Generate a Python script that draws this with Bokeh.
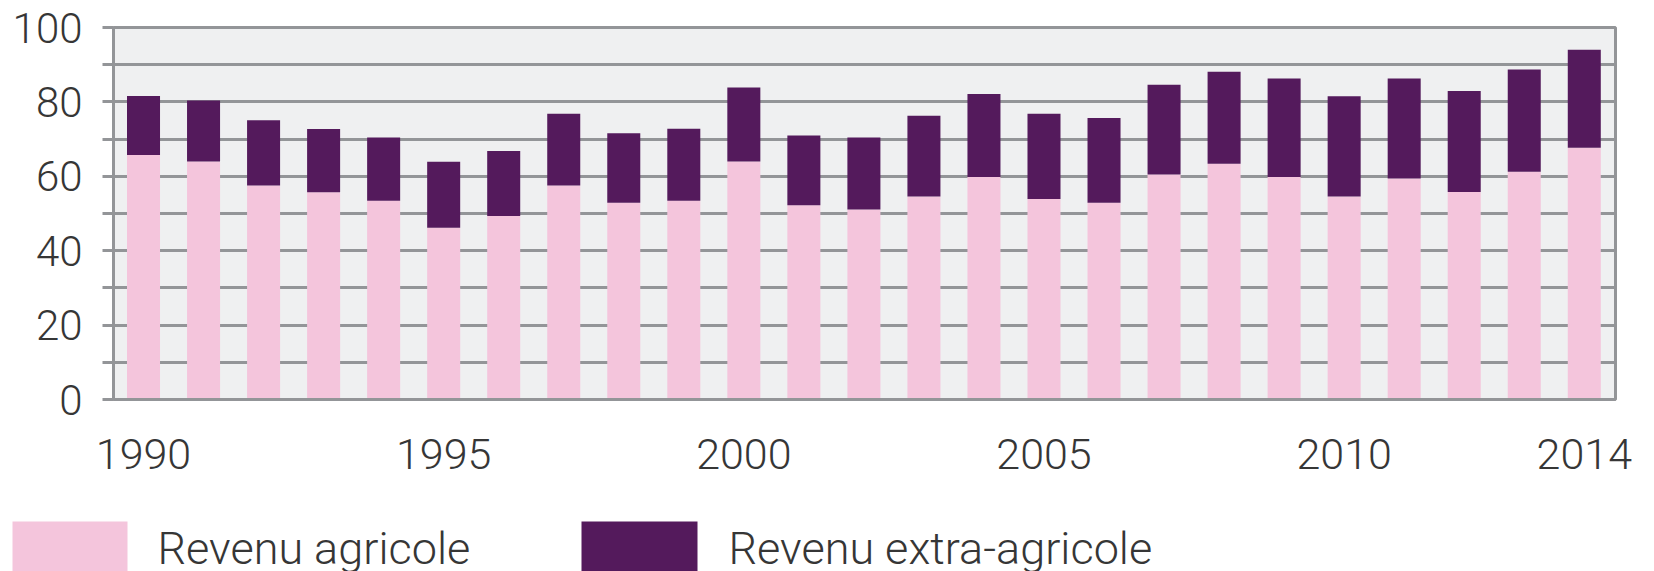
from bokeh.plotting import figure
from bokeh.layouts import column, row
from bokeh.models import ColumnDataSource, FixedTicker, Range1d
from bokeh.core.properties import value
from bokeh.embed import file_html
from bokeh.resources import INLINE

years = list(range(1990, 2015))
revenu_agricole = [65.7, 64.0, 57.5, 55.7, 53.4, 46.2, 49.3, 57.5, 52.9, 53.4,
                   64.0, 52.2, 51.1, 54.6, 59.8, 53.9, 52.9, 60.5, 63.4, 59.8,
                   54.6, 59.4, 55.8, 61.2, 67.7]
revenu_extra = [15.9, 16.4, 17.6, 17.0, 17.0, 17.7, 17.5, 19.3, 18.7, 19.4,
                19.9, 18.8, 19.3, 21.7, 22.3, 22.9, 22.8, 24.1, 24.7, 26.5,
                26.9, 26.9, 27.1, 27.5, 26.3]
series_labels = ["Revenu agricole", "Revenu extra-agricole"]
x_tick_years = [1990, 1995, 2000, 2005, 2010, 2014]
y_major = [0, 20, 40, 60, 80, 100]
y_minor = [10, 30, 50, 70, 90]
y_grid = [0, 10, 20, 30, 40, 50, 60, 70, 80, 90, 100]

PINK = "#f4c5dc"
PURPLE = "#541a5c"
GRID = "#939598"
TEXT = "#363636"
FONT = "Roboto Light, Roboto"

source = ColumnDataSource(dict(year=years, agri=revenu_agricole, extra=revenu_extra))

p = figure(frame_width=1502, frame_height=372,
           min_border_left=113, min_border_right=39, min_border_top=27,
           min_border_bottom=101,
           x_range=Range1d(1989.5, 2014.52), y_range=Range1d(0, 100),
           output_backend="svg", toolbar_location=None)

renderers = p.vbar_stack(["agri", "extra"], x="year", width=0.55, source=source,
                         color=[PINK, PURPLE], line_color=None)

p.background_fill_color = "#eff0f1"
p.border_fill_color = "white"
p.outline_line_color = GRID
p.outline_line_width = 3

p.xgrid.visible = False
p.ygrid.ticker = FixedTicker(ticks=y_grid)
p.ygrid.grid_line_color = GRID
p.ygrid.grid_line_width = 3

ya = p.yaxis[0]
ya.ticker = FixedTicker(ticks=y_major, minor_ticks=y_minor)
ya.axis_line_color = GRID
ya.axis_line_width = 3
ya.major_tick_line_color = GRID
ya.major_tick_line_width = 3
ya.minor_tick_line_color = GRID
ya.minor_tick_line_width = 3
ya.major_tick_out = 11
ya.major_tick_in = 0
ya.minor_tick_out = 11
ya.minor_tick_in = 0
ya.major_label_standoff = 20
ya.major_label_text_font = FONT
ya.major_label_text_font_size = "42px"
ya.major_label_text_color = TEXT

xa = p.xaxis[0]
xa.ticker = FixedTicker(ticks=x_tick_years)
xa.axis_line_color = GRID
xa.axis_line_width = 3
xa.major_tick_out = 0
xa.major_tick_in = 0
xa.minor_tick_line_color = None
xa.major_tick_line_color = None
xa.major_label_standoff = 39
xa.major_label_text_font = FONT
xa.major_label_text_font_size = "43px"
xa.major_label_text_color = TEXT

# Legend drawn in its own strip below the chart (pixel coordinates)
leg_h = 71
leg = figure(frame_width=1654, frame_height=leg_h,
             x_range=Range1d(0, 1654), y_range=Range1d(leg_h, 0),
             x_axis_type=None, y_axis_type=None,
             min_border_left=0, min_border_right=0, min_border_top=0, min_border_bottom=0,
             output_backend="svg", toolbar_location=None)
leg.outline_line_color = None
leg.grid.visible = False
leg.background_fill_color = "white"
leg.border_fill_color = "white"

leg_src = ColumnDataSource(dict(
    left=[12, 581], right=[127, 697], top=[21, 21], bottom=[leg_h + 5, leg_h + 5],
    color=[PINK, PURPLE], tx=[157, 728], ty=[48, 48], label=series_labels))
leg.quad(left="left", right="right", top="top", bottom="bottom", color="color",
         line_color=None, source=leg_src)
leg.text(x="tx", y="ty", text="label", source=leg_src, text_font=value(FONT),
         text_font_size="45px", text_color=TEXT, text_baseline="middle",
         text_align="left")

layout = column(p, row(leg, spacing=0), spacing=0)
open("out.html", "w").write(file_html(layout, INLINE))
